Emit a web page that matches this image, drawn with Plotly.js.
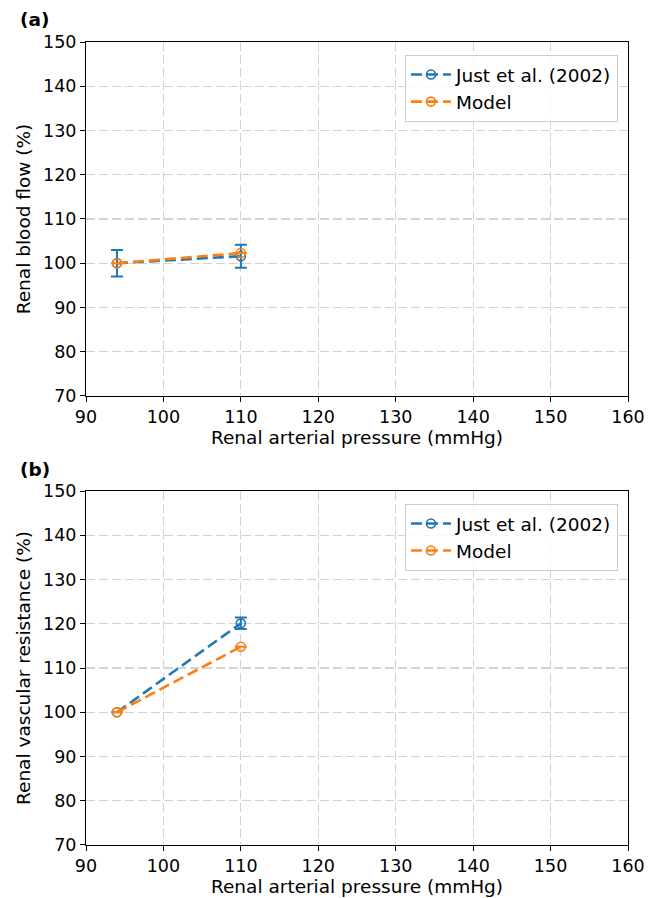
<!DOCTYPE html>
<html>
<head>
<meta charset="utf-8">
<script src="https://cdn.plot.ly/plotly-3.0.1.min.js"></script>
<style>html,body{margin:0;padding:0;background:#fff;}</style>
</head>
<body>
<div id="chart" style="width:648px;height:898px;"></div>
<script>
// Data
const pressure = [94, 110];
const rbfJust = [100, 101.6];
const rbfJustErr = [3.0, 2.6];
const rbfModel = [100, 102.3];
const rbfModelErr = [0, 0];
const rvrJust = [100, 120.1];
const rvrJustErr = [0, 1.3];
const rvrModel = [100, 114.8];
const rvrModelErr = [0, 0];
const xTicks = [90, 100, 110, 120, 130, 140, 150, 160];
const yTicks = [70, 80, 90, 100, 110, 120, 130, 140, 150];

const blue = '#1f77b4', orange = '#ff7f0e';
const font = 'DejaVu Sans, sans-serif';
const fs = 17.5;
const fsTitle = 18.5;

function tr(x, y, err, color, name, xa, ya, leg) {
  return {
    x: x, y: y, name: name, type: 'scatter', mode: 'lines+markers',
    xaxis: xa, yaxis: ya, legend: leg,
    line: {color: color, width: 2.6, dash: '11px,5px'},
    marker: {symbol: 'circle-open', size: 9, color: color, line: {width: 1.6, color: color}},
    error_y: {type: 'data', array: err, visible: true, color: color, thickness: 2, width: 6}
  };
}

const data = [
  tr(pressure, rbfJust, rbfJustErr, blue, 'Just et al. (2002)', 'x', 'y', 'legend'),
  tr(pressure, rbfModel, rbfModelErr, orange, 'Model', 'x', 'y', 'legend'),
  tr(pressure, rvrJust, rvrJustErr, blue, 'Just et al. (2002)', 'x2', 'y2', 'legend2'),
  tr(pressure, rvrModel, rvrModelErr, orange, 'Model', 'x2', 'y2', 'legend2')
];

function xax(anchor) {
  return {
    anchor: anchor, range: [90, 160], tickvals: xTicks, ticktext: xTicks.map(String),
    showline: true, mirror: true, linecolor: '#000', linewidth: 1,
    ticks: 'outside', ticklen: 5, tickcolor: '#000',
    showgrid: true, gridcolor: '#d3d3d3', griddash: '9px,4px', gridwidth: 1.2,
    zeroline: false, tickfont: {family: font, size: fs, color: '#000'},
    title: {text: 'Renal arterial pressure (mmHg)', font: {family: font, size: fsTitle, color: '#000'}, standoff: 3}
  };
}
function yax(anchor, domain, title) {
  return {
    anchor: anchor, domain: domain, range: [70, 150], tickvals: yTicks, ticktext: yTicks.map(String),
    showline: true, mirror: true, linecolor: '#000', linewidth: 1,
    ticks: 'outside', ticklen: 5, tickcolor: '#000',
    showgrid: true, gridcolor: '#d3d3d3', griddash: '9px,4px', gridwidth: 1.2,
    zeroline: false, tickfont: {family: font, size: fs, color: '#000'},
    title: {text: title, font: {family: font, size: fsTitle, color: '#000'}, standoff: 7}
  };
}

const legendBase = {
  xref: 'paper', yref: 'paper', xanchor: 'right', yanchor: 'top',
  bgcolor: 'rgba(255,255,255,0.8)', bordercolor: '#cccccc', borderwidth: 1,
  font: {family: font, size: fsTitle, color: '#000'}, itemwidth: 40, tracegroupgap: 0
};

const layout = {
  width: 648, height: 898,
  margin: {l: 86, r: 20, t: 42, b: 53},
  paper_bgcolor: '#fff', plot_bgcolor: '#fff',
  showlegend: true,
  xaxis: xax('y'),
  yaxis: yax('x', [0.5592, 1.0], 'Renal blood flow (%)'),
  xaxis2: xax('y2'),
  yaxis2: yax('x2', [0, 0.4408], 'Renal vascular resistance (%)'),
  legend: Object.assign({}, legendBase, {x: 0.9815, y: 0.9838}),
  legend2: Object.assign({}, legendBase, {x: 0.9815, y: 0.4247}),
  annotations: [
    {text: '<b>(a)</b>', xref: 'paper', yref: 'paper', x: -0.125, y: 1.028, xanchor: 'left', yanchor: 'middle', showarrow: false, font: {family: font, size: fsTitle, color: '#000'}},
    {text: '<b>(b)</b>', xref: 'paper', yref: 'paper', x: -0.125, y: 0.468, xanchor: 'left', yanchor: 'middle', showarrow: false, font: {family: font, size: fsTitle, color: '#000'}}
  ]
};

Plotly.newPlot('chart', data, layout, {displayModeBar: false, staticPlot: true});
</script>
</body>
</html>
